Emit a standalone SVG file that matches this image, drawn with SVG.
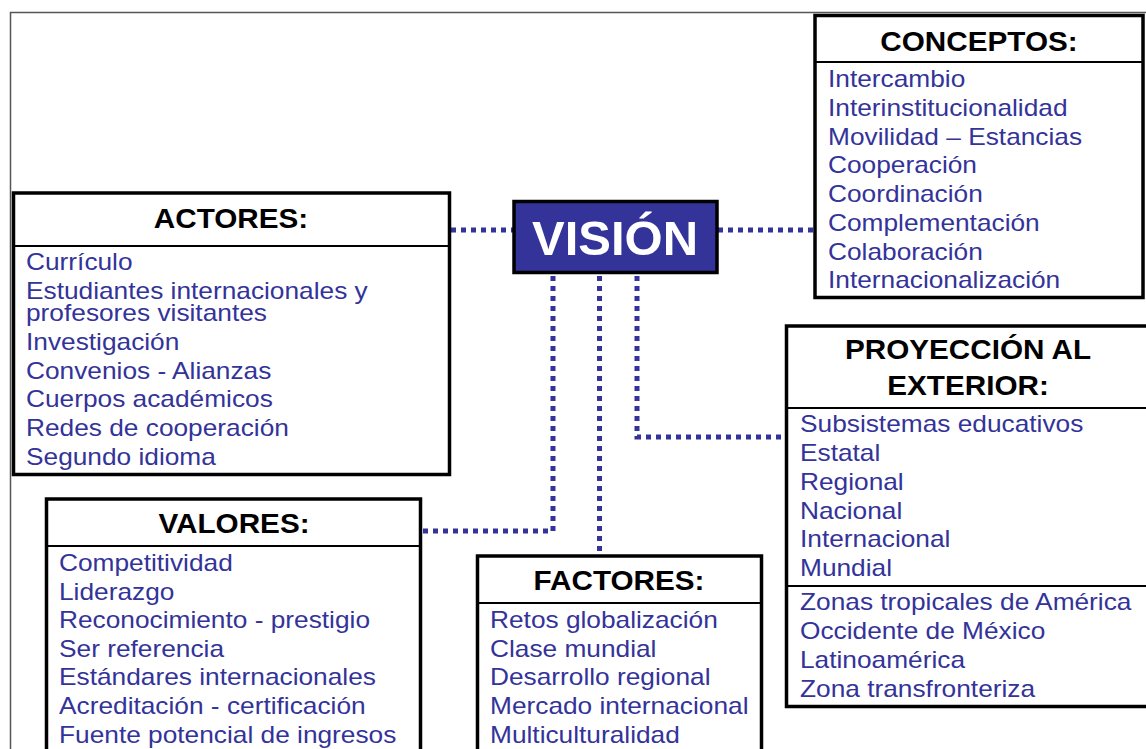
<svg xmlns="http://www.w3.org/2000/svg" width="1146" height="749" viewBox="0 0 1146 749">
<style>
.box{fill:#fff;stroke:#000;stroke-width:3.5}
.sep{stroke:#000;stroke-width:2}
.title{font-family:"Liberation Sans",Arial,sans-serif;font-weight:bold;font-size:28px;fill:#000;text-anchor:middle}
.item{font-family:"Liberation Sans",Arial,sans-serif;font-size:24px;fill:#333399}
.conn{fill:none;stroke:#333399;stroke-width:5;stroke-dasharray:5 5}
</style>
<rect width="1146" height="749" fill="#fff"/>
<path d="M10.5 749 V12.5 H1146" fill="none" stroke="#555" stroke-width="1.5"/>
<g id="connectors">
<path class="conn" d="M451 230 H514"/>
<path class="conn" d="M718 230 H815"/>
<path class="conn" d="M553 276 V531 H422"/>
<path class="conn" d="M599.5 276 V556"/>
<path class="conn" d="M637 276 V437 H786"/>
</g>
<g id="vision">
<rect x="514" y="201.5" width="203" height="71" fill="#333399" stroke="#000" stroke-width="3.5"/>
<text x="615" y="255" font-family="Liberation Sans,Arial,sans-serif" font-weight="bold" font-size="49" fill="#fff" text-anchor="middle">VISIÓN</text>
</g>
<g id="conceptos">
<rect class="box" x="815" y="15.5" width="328" height="282"/>
<line class="sep" x1="815" y1="62" x2="1143" y2="62"/>
<text class="title" transform="translate(979,0) scale(1.06,1)" x="0" y="51">CONCEPTOS:</text>
<g transform="translate(828,0) scale(1.095,1)">
<text class="item" x="0" y="87">Intercambio</text>
<text class="item" x="0" y="116">Interinstitucionalidad</text>
<text class="item" x="0" y="145">Movilidad – Estancias</text>
<text class="item" x="0" y="173">Cooperación</text>
<text class="item" x="0" y="202">Coordinación</text>
<text class="item" x="0" y="231">Complementación</text>
<text class="item" x="0" y="260">Colaboración</text>
<text class="item" x="0" y="288">Internacionalización</text>
</g>
</g>
<g id="actores">
<rect class="box" x="13.5" y="193" width="436" height="281.5"/>
<line class="sep" x1="13.5" y1="246" x2="449.5" y2="246"/>
<text class="title" transform="translate(231,0) scale(1.06,1)" x="0" y="228">ACTORES:</text>
<g transform="translate(26,0) scale(1.095,1)">
<text class="item" x="0" y="270">Currículo</text>
<text class="item" x="0" y="299">Estudiantes internacionales y</text>
<text class="item" x="0" y="321">profesores visitantes</text>
<text class="item" x="0" y="350">Investigación</text>
<text class="item" x="0" y="379">Convenios - Alianzas</text>
<text class="item" x="0" y="407">Cuerpos académicos</text>
<text class="item" x="0" y="436">Redes de cooperación</text>
<text class="item" x="0" y="465">Segundo idioma</text>
</g>
</g>
<g id="valores">
<rect class="box" x="46.5" y="499" width="374" height="270"/>
<line class="sep" x1="46.5" y1="546" x2="420.5" y2="546"/>
<text class="title" transform="translate(234,0) scale(1.06,1)" x="0" y="533">VALORES:</text>
<g transform="translate(59,0) scale(1.095,1)">
<text class="item" x="0" y="571">Competitividad</text>
<text class="item" x="0" y="600">Liderazgo</text>
<text class="item" x="0" y="628">Reconocimiento - prestigio</text>
<text class="item" x="0" y="657">Ser referencia</text>
<text class="item" x="0" y="685">Estándares internacionales</text>
<text class="item" x="0" y="714">Acreditación - certificación</text>
<text class="item" x="0" y="743">Fuente potencial de ingresos</text>
</g>
</g>
<g id="factores">
<rect class="box" x="477.5" y="556" width="284" height="220"/>
<line class="sep" x1="477.5" y1="603" x2="761.5" y2="603"/>
<text class="title" transform="translate(619,0) scale(1.06,1)" x="0" y="590">FACTORES:</text>
<g transform="translate(490,0) scale(1.095,1)">
<text class="item" x="0" y="628">Retos globalización</text>
<text class="item" x="0" y="657">Clase mundial</text>
<text class="item" x="0" y="685">Desarrollo regional</text>
<text class="item" x="0" y="714">Mercado internacional</text>
<text class="item" x="0" y="743">Multiculturalidad</text>
</g>
</g>
<g id="proyeccion">
<rect class="box" x="786.5" y="326" width="380" height="380.5"/>
<line class="sep" x1="786.5" y1="408" x2="1146" y2="408"/>
<line class="sep" x1="786.5" y1="586" x2="1146" y2="586"/>
<text class="title" transform="translate(968,0) scale(1.06,1)" x="0" y="359">PROYECCIÓN AL</text>
<text class="title" transform="translate(968,0) scale(1.06,1)" x="0" y="395">EXTERIOR:</text>
<g transform="translate(800,0) scale(1.095,1)">
<text class="item" x="0" y="432">Subsistemas educativos</text>
<text class="item" x="0" y="461">Estatal</text>
<text class="item" x="0" y="490">Regional</text>
<text class="item" x="0" y="519">Nacional</text>
<text class="item" x="0" y="547">Internacional</text>
<text class="item" x="0" y="576">Mundial</text>
<text class="item" x="0" y="610">Zonas tropicales de América</text>
<text class="item" x="0" y="639">Occidente de México</text>
<text class="item" x="0" y="668">Latinoamérica</text>
<text class="item" x="0" y="697">Zona transfronteriza</text>
</g>
</g>
</svg>
